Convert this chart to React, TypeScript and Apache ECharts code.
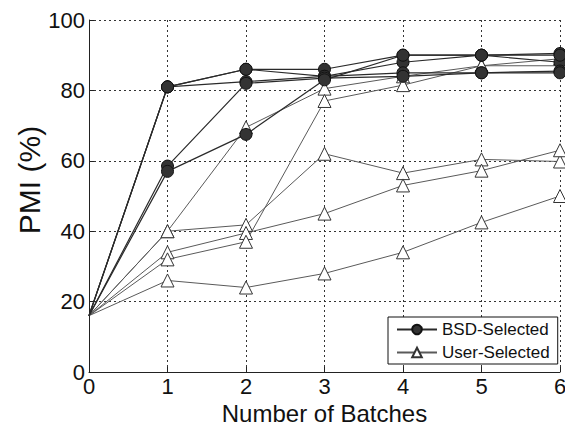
import React, { useEffect, useRef } from "react";
import * as echarts from "echarts";

const batches = [0, 1, 2, 3, 4, 5, 6];
const yTicks = [0, 20, 40, 60, 80, 100];

const bsd1 = [16, 81, 86, 86, 90, 90, 90.5];
const bsd2 = [16, 81, 86, 84, 88, 90, 88];
const bsd3 = [16, 81, 82.5, 84, 85, 85, 85.5];
const bsd4 = [16, 58.5, 82, 83.5, 84, 85, 85];
const bsd5 = [16, 57, 67.5, 83, 90, 90, 90];

const user1 = [16, 40, 69.5, 80.5, 84, 87, 89];
const user2 = [16, 40, 41.8, 62, 56.5, 60.4, 59.8];
const user3 = [16, 34, 39.5, 45, 53, 57.2, 63];
const user4 = [16, 32, 37, 77, 81.5, 87, 87];
const user5 = [16, 26, 24, 28, 34, 42.5, 50];

const bsdSeries = [bsd1, bsd2, bsd3, bsd4, bsd5];
const userSeries = [user1, user2, user3, user4, user5];

const FONT = "Liberation Sans, Arial, sans-serif";

function toData(vals: number[]) {
  return vals.map((v, i) =>
    i === 0 ? { value: [batches[i], v], symbol: "none" } : { value: [batches[i], v] }
  );
}

export default function App() {
  const ref = useRef<HTMLDivElement>(null);
  useEffect(() => {
    if (!ref.current) return;
    const chart = echarts.init(ref.current, undefined, { renderer: "svg" });
    const series: any[] = [];
    userSeries.forEach((s) => {
      series.push({
        name: "User-Selected",
        type: "line",
        data: toData(s),
        symbol: "triangle",
        symbolSize: 13,
        clip: false,
        itemStyle: { color: "#ffffff", borderColor: "#333", borderWidth: 1 },
        lineStyle: { color: "#5a5a5a", width: 1 },
        z: 2,
      });
    });
    bsdSeries.forEach((s) => {
      series.push({
        name: "BSD-Selected",
        type: "line",
        data: toData(s),
        symbol: "circle",
        symbolSize: 12,
        clip: false,
        itemStyle: { color: "#333", borderColor: "#111", borderWidth: 1 },
        lineStyle: { color: "#2a2a2a", width: 1.2 },
        z: 3,
      });
    });
    chart.setOption({
      animation: false,
      backgroundColor: "#ffffff",
      grid: {
        left: 89,
        right: 5,
        top: 20,
        bottom: 54,
        containLabel: false,
        outerBoundsMode: "none",
      },
      xAxis: {
        type: "value",
        min: 0,
        max: 6,
        interval: 1,
        name: "Number of Batches",
        nameLocation: "middle",
        nameGap: 26,
        nameTextStyle: { fontFamily: FONT, fontSize: 24, color: "#111" },
        axisLine: { show: true, onZero: false, lineStyle: { color: "#222", width: 1 } },
        axisTick: { show: true, inside: true, length: 5, lineStyle: { color: "#222" } },
        axisLabel: { fontFamily: FONT, fontSize: 22, color: "#111", margin: 3 },
        splitLine: { show: true, lineStyle: { color: "#333", type: [2, 3], width: 1 } },
      },
      yAxis: {
        type: "value",
        min: yTicks[0],
        max: yTicks[yTicks.length - 1],
        interval: 20,
        axisLine: { show: true, onZero: false, lineStyle: { color: "#222", width: 1 } },
        axisTick: { show: true, inside: true, length: 5, lineStyle: { color: "#222" } },
        axisLabel: { fontFamily: FONT, fontSize: 22, color: "#111", margin: 4 },
        splitLine: { show: true, lineStyle: { color: "#333", type: [2, 3], width: 1 } },
      },
      legend: {
        data: ["BSD-Selected", "User-Selected"],
        orient: "vertical",
        left: 388,
        top: 317,
        backgroundColor: "#ffffff",
        borderColor: "#111",
        borderWidth: 1,
        borderRadius: 0,
        padding: [4, 8, 3, 8],
        itemWidth: 40,
        itemHeight: 12,
        itemGap: 6,
        selectedMode: false,
        textStyle: { fontFamily: FONT, fontSize: 17, color: "#111" },
      },
      graphic: [
        {
          type: "text",
          x: 29,
          y: 180,
          rotation: Math.PI / 2,
          style: {
            text: "PMI (%)",
            fontFamily: FONT,
            fontSize: 30,
            fill: "#111",
            textAlign: "center",
            textVerticalAlign: "middle",
          },
        },
      ],
      series,
    });
    return () => chart.dispose();
  }, []);
  return <div ref={ref} style={{ width: 565, height: 426, position: "absolute", left: 0, top: 0 }} />;
}
